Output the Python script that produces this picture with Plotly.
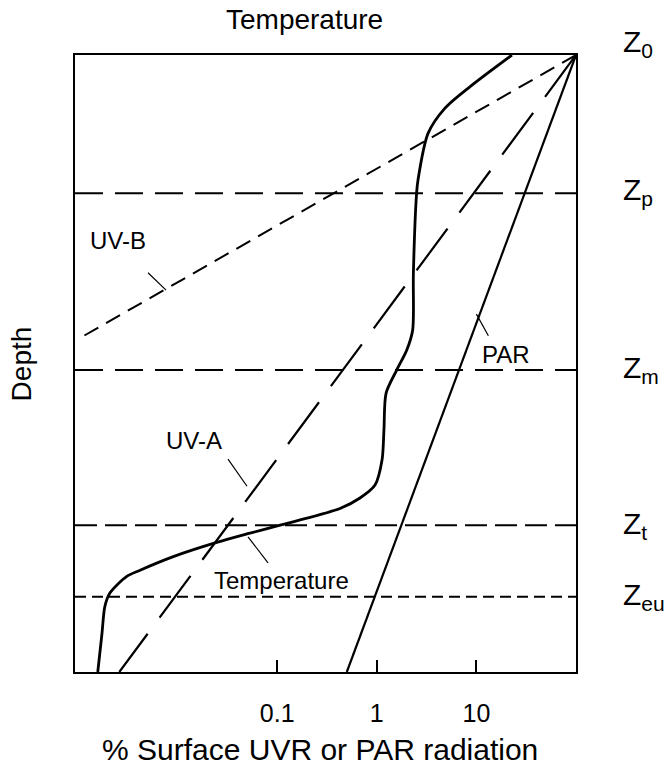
import plotly.graph_objects as go

# ---- data ----
# relative depth: 0 = surface (top), 100 = bottom of the panel
line_depth = [0, 100]
par_pct = [100, 0.5]
uva_pct = [100, 0.0026]
uvb_depth = [0, 45.6]
uvb_pct = [100, 0.00112]

temp_depth = [0, 5.0, 8.6, 12.7, 20.3, 22.4, 35.4, 44.6, 47.8, 51.1, 54.8, 60.8,
              65.6, 69.7, 71.8, 73.5, 76.2, 77.5, 79.0, 81.3, 83.5, 84.5, 87.2,
              89.4, 93.8, 100]
temp_pos = [22.75, 8.83, 4.84, 3.27, 2.59, 2.51, 2.33, 2.29, 2.0, 1.58, 1.24, 1.18,
            1.13, 0.96, 0.678, 0.427, 0.107, 0.0533, 0.0247, 0.00906, 0.0042,
            0.00309, 0.00209, 0.00186, 0.00174, 0.00158]

z_names = ["p", "m", "t", "eu"]
z_depths = [22.4, 51.05, 76.2, 87.8]
z_dash = ["28px,12px", "28px,12px", "22px,8px", "11px,6px"]

tick_vals = [0.1, 1, 10]
tick_text = ["0.1", "1", "10"]

XMIN, XMAX = 10 ** -3.03, 100

FONT = "Liberation Sans, Arial, sans-serif"

fig = go.Figure()

for name, d, dash in zip(z_names, z_depths, z_dash):
    fig.add_trace(go.Scatter(x=[XMIN, XMAX], y=[d, d], mode="lines",
                             line=dict(color="black", width=2, dash=dash),
                             hoverinfo="skip", showlegend=False))

fig.add_trace(go.Scatter(x=par_pct, y=line_depth, mode="lines",
                         line=dict(color="black", width=2.2), showlegend=False))
fig.add_trace(go.Scatter(x=uva_pct, y=line_depth, mode="lines",
                         line=dict(color="black", width=2.2, dash="52px,20px"), showlegend=False))
fig.add_trace(go.Scatter(x=uvb_pct, y=uvb_depth, mode="lines",
                         line=dict(color="black", width=2, dash="16px,9px"), showlegend=False))
fig.add_trace(go.Scatter(x=temp_pos, y=temp_depth, mode="lines",
                         line=dict(color="black", width=2.8, shape="spline", smoothing=0.8),
                         showlegend=False))

# leader lines (label pointers): x in % units, y in depth
leaders = [
    ([10 ** -2.297, 10 ** -2.116], [35.3, 38.1]),   # UV-B
    ([10 ** -1.494, 10 ** -1.303], [65.5, 69.9]),   # UV-A
    ([10 ** -1.293, 10 ** -1.092], [78.1, 82.3]),   # Temperature
    ([10 ** 1.00, 10 ** 1.12], [42.0, 45.5]),       # PAR
]
for lx, ly in leaders:
    fig.add_trace(go.Scatter(x=lx, y=ly, mode="lines",
                             line=dict(color="black", width=1.2), showlegend=False))

ann = []
def label(text, x, y, size=24, **kw):
    d = dict(text=text, x=x, y=y, showarrow=False, xanchor="center", yanchor="middle",
             font=dict(family=FONT, size=size, color="black"))
    d.update(kw)
    ann.append(d)

# data-referenced labels (log axis -> x given as log10)
label("UV-B", -2.60, 30.0, xref="x", yref="y")
label("UV-A", -1.835, 62.4, xref="x", yref="y")
label("Temperature", -0.952, 85.1, xref="x", yref="y")
label("PAR", 1.30, 48.5, xref="x", yref="y")

label("Temperature", 0.459, 1.058, size=28, xref="paper", yref="paper")
label("% Surface UVR or PAR radiation", 0.49, -0.126, size=30, xref="paper", yref="paper")
label("Depth", -0.106, 0.5, size=28, xref="paper", yref="paper", textangle=-90)

z_label_y = [1.018, 0.778, 0.49, 0.238, 0.122]
z_label_txt = ["Z<sub>0</sub>", "Z<sub>p</sub>", "Z<sub>m</sub>", "Z<sub>t</sub>", "Z<sub>eu</sub>"]
for t, yy in zip(z_label_txt, z_label_y):
    label(t, 1.09, yy, size=30, xref="paper", yref="paper", xanchor="left")

fig.update_layout(
    width=669, height=771,
    margin=dict(l=75, r=93, t=55, b=99),
    paper_bgcolor="white", plot_bgcolor="white",
    showlegend=False,
    annotations=ann,
    xaxis=dict(type="log", range=[-3.03, 2.0], showgrid=False, zeroline=False,
               showline=True, linecolor="black", linewidth=1.8, mirror=True,
               tickvals=tick_vals, ticktext=tick_text, ticks="inside", ticklen=12,
               tickwidth=1.5, tickcolor="black", ticklabelstandoff=18,
               tickfont=dict(family=FONT, size=25, color="black")),
    yaxis=dict(range=[100, 0], showgrid=False, zeroline=False, showticklabels=False,
               showline=True, linecolor="black", linewidth=1.8, mirror=True, ticks=""),
)

fig.write_html("out.html")
